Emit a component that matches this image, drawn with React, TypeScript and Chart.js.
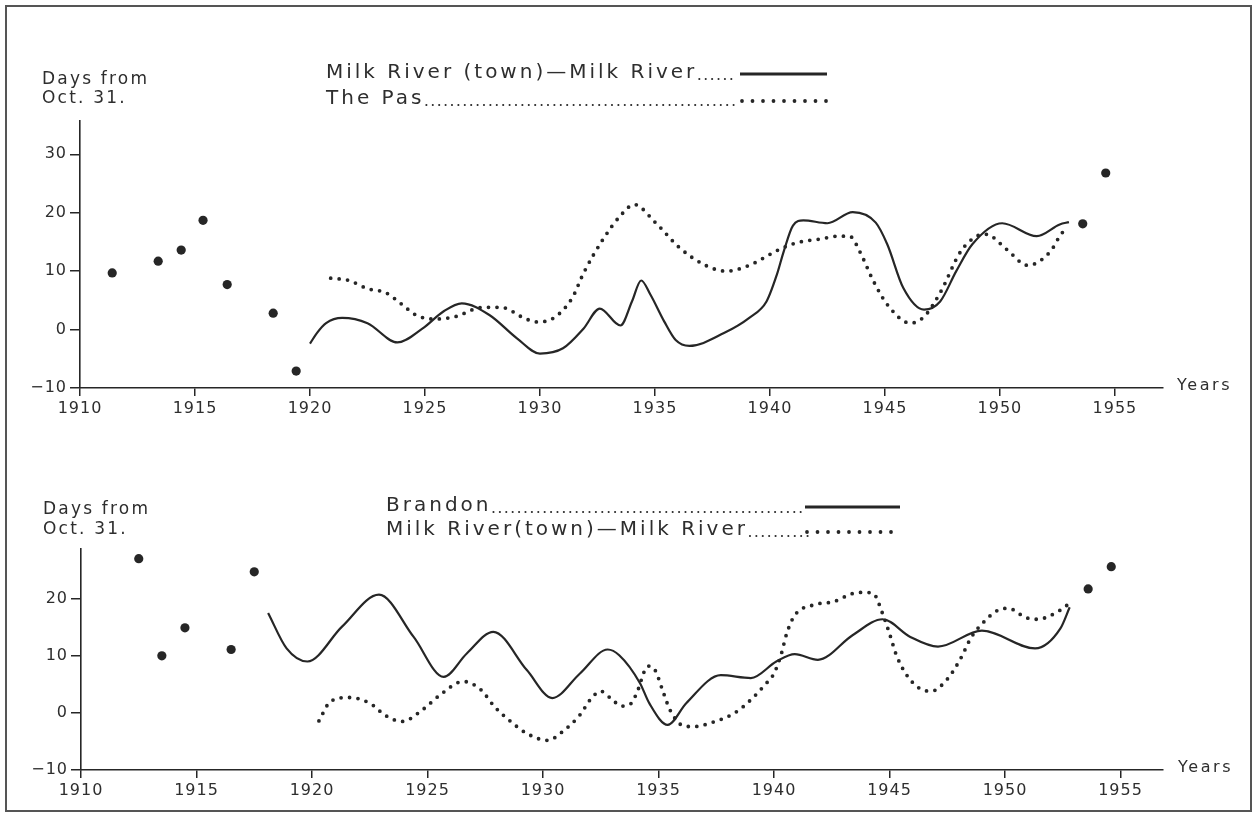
import React, { useEffect, useRef } from 'react';
import { Chart, registerables } from 'chart.js';

Chart.register(...registerables);

const INK = '#262626';
const TEXT = '#2e2e2e';
const FONT = '"DejaVu Sans", "Liberation Sans", sans-serif';

// ---------- tick labels ----------
const xTickYears = [1910, 1915, 1920, 1925, 1930, 1935, 1940, 1945, 1950, 1955];
const topYTicks = [-10, 0, 10, 20, 30];
const bottomYTicks = [-10, 0, 10, 20];

// ---------- top panel ----------
const topSolidLabel = 'Milk River (town)—Milk River';
const topDotLabel = 'The Pas';
const topSolidYears = [1920.0, 1920.3, 1920.7, 1921.4, 1922.5, 1923.8, 1924.9, 1925.8, 1926.6, 1927.8, 1929.0, 1930.0, 1931.0, 1931.9, 1932.6, 1933.5, 1934.0, 1934.4, 1934.8, 1935.4, 1935.9, 1936.5, 1938.0, 1939.1, 1939.85, 1940.3, 1940.6, 1941.0, 1941.45, 1942.5, 1943.6, 1944.6, 1945.1, 1945.8, 1946.7, 1947.4, 1948.1, 1948.8, 1950.1, 1951.6, 1952.6, 1953.0];
const topSolidValues = [-2.4, -0.6, 1.1, 2.0, 1.1, -2.2, 0.2, 3.1, 4.5, 2.5, -1.5, -4.1, -3.2, 0.2, 3.6, 0.7, 4.8, 8.4, 6.0, 1.4, -1.8, -2.8, -0.6, 2.0, 4.8, 9.4, 13.4, 17.8, 18.7, 18.2, 20.1, 18.3, 14.6, 7.1, 3.4, 4.8, 10.0, 14.6, 18.2, 16.0, 18.0, 18.4];
const topDotYears = [1920.9, 1921.7, 1922.5, 1923.3, 1924.0, 1924.6, 1925.4, 1926.3, 1927.5, 1928.3, 1929.4, 1929.9, 1930.6, 1931.4, 1931.9, 1932.75, 1933.5, 1934.1, 1935.0, 1936.1, 1937.25, 1938.1, 1939.1, 1940.4, 1941.2, 1942.2, 1943.0, 1943.5, 1943.9, 1944.5, 1945.1, 1946.1, 1946.7, 1947.4, 1948.3, 1949.0, 1949.4, 1950.3, 1951.2, 1952.2, 1952.6, 1952.9];
const topDotValues = [8.8, 8.4, 7.0, 6.3, 4.3, 2.5, 1.8, 2.2, 3.8, 3.8, 1.8, 1.3, 2.0, 5.4, 9.7, 15.5, 19.5, 21.4, 18.4, 13.9, 10.9, 10.0, 11.0, 13.7, 14.9, 15.5, 16.0, 15.9, 13.4, 8.3, 4.3, 1.1, 2.2, 6.3, 13.4, 16.0, 16.3, 13.7, 11.0, 13.4, 16.0, 17.5];
const topSingleYears = [1911.4, 1913.4, 1914.4, 1915.35, 1916.4, 1918.4, 1919.4, 1953.6, 1954.6];
const topSingleValues = [9.7, 11.7, 13.6, 18.7, 7.7, 2.8, -7.1, 18.1, 26.8];

// ---------- bottom panel ----------
const bottomSolidLabel = 'Brandon';
const bottomDotLabel = 'Milk River(town)—Milk River';
const bottomSolidYears = [1918.1, 1918.9, 1919.8, 1921.3, 1922.9, 1924.4, 1925.7, 1926.7, 1927.85, 1929.3, 1930.4, 1931.6, 1932.8, 1933.3, 1934.2, 1934.6, 1935.4, 1936.2, 1937.7, 1939.0, 1940.1, 1940.9, 1941.9, 1943.4, 1944.7, 1945.9, 1947.1, 1949.0, 1951.3, 1952.4, 1952.8];
const bottomSolidValues = [17.5, 11.3, 9.0, 15.1, 20.7, 13.3, 6.3, 10.4, 14.2, 7.5, 2.6, 6.9, 11.1, 10.1, 5.2, 1.7, -2.1, 1.7, 6.6, 6.1, 9.0, 10.3, 9.3, 13.6, 16.4, 13.3, 11.6, 14.4, 11.3, 14.8, 18.5];
const bottomDotYears = [1920.3, 1920.8, 1921.6, 1922.5, 1923.2, 1923.9, 1924.8, 1925.5, 1926.55, 1927.3, 1927.9, 1928.6, 1929.3, 1930.2, 1930.9, 1931.6, 1932.1, 1932.5, 1933.0, 1933.4, 1933.8, 1934.05, 1934.55, 1934.85, 1935.2, 1935.5, 1936.1, 1936.5, 1937.45, 1938.3, 1939.0, 1939.6, 1940.0, 1940.3, 1940.55, 1940.9, 1941.7, 1942.6, 1943.4, 1943.9, 1944.3, 1944.7, 1945.0, 1945.3, 1945.7, 1946.3, 1946.8, 1947.5, 1948.05, 1948.55, 1949.1, 1949.7, 1950.15, 1950.9, 1951.4, 1952.4, 1952.7];
const bottomDotValues = [-1.4, 2.0, 2.7, 1.7, -0.5, -1.5, 0.6, 3.0, 5.5, 4.1, 1.1, -1.5, -3.6, -4.8, -3.1, -0.35, 2.6, 3.8, 2.3, 1.2, 1.6, 3.4, 8.2, 7.5, 3.7, 0.5, -2.3, -2.4, -1.5, 0.0, 2.3, 4.9, 6.9, 10.1, 13.9, 17.1, 18.9, 19.5, 20.9, 21.1, 20.9, 17.4, 13.9, 10.1, 6.9, 4.3, 3.8, 5.9, 9.3, 13.3, 16.0, 18.0, 18.3, 16.7, 16.4, 18.0, 18.9];
const bottomSingleYears = [1912.5, 1913.5, 1914.5, 1916.5, 1917.5, 1953.6, 1954.6];
const bottomSingleValues = [27.0, 10.0, 14.9, 11.1, 24.7, 21.7, 25.6];

const yAxisTitle = ['Days from', 'Oct. 31.'];
const xAxisTitle = 'Years';

function toPoints(xs: number[], ys: number[]) {
  return xs.map((x, i) => ({ x, y: ys[i] }));
}

function drawSpaced(ctx: CanvasRenderingContext2D, text: string, x: number, y: number, size: number, spacing: number) {
  ctx.font = `${size}px ${FONT}`;
  (ctx as any).letterSpacing = `${spacing}px`;
  ctx.fillText(text, x, y);
  return ctx.measureText(text).width;
}

function leaderDots(ctx: CanvasRenderingContext2D, x0: number, x1: number, y: number, step: number, r: number) {
  for (let x = x0; x <= x1; x += step) {
    ctx.beginPath();
    ctx.arc(x, y, r, 0, Math.PI * 2);
    ctx.fill();
  }
}

type Panel = {
  solidLabel: string;
  dotLabel: string;
  solid: { x: number; y: number }[];
  dotted: { x: number; y: number }[];
  singles: { x: number; y: number }[];
  yTicks: number[];
  yMin: number;
  yMax: number;
  xMin: number;
  xMax: number;
  padding: { left: number; top: number; right: number; bottom: number };
  yWidth: number;
  legendX: number;
  legendY1: number;
  legendY2: number;
  sampleX0: number;
  sampleX1: number;
  leaderEnd1: number;
  leaderEnd2: number;
  titleX: number;
  titleY1: number;
  titleY2: number;
  yearsX: number;
  yearsY: number;
};

function annotPlugin(p: Panel) {
  return {
    id: 'annot',
    beforeDraw(chart: any) {
      (chart.ctx as any).letterSpacing = '1px';
    },
    afterDraw(chart: any) {
      const ctx: CanvasRenderingContext2D = chart.ctx;
      ctx.save();
      ctx.fillStyle = TEXT;
      ctx.strokeStyle = INK;
      ctx.textBaseline = 'middle';
      ctx.textAlign = 'left';
      // axis titles
      drawSpaced(ctx, yAxisTitle[0], p.titleX, p.titleY1, 17, 2.2);
      drawSpaced(ctx, yAxisTitle[1], p.titleX, p.titleY2, 17, 2.2);
      drawSpaced(ctx, xAxisTitle, p.yearsX, p.yearsY, 16, 2.6);
      // legend
      const w1 = drawSpaced(ctx, p.solidLabel, p.legendX, p.legendY1, 20, 3);
      const w2 = drawSpaced(ctx, p.dotLabel, p.legendX, p.legendY2, 20, 3);
      ctx.fillStyle = INK;
      leaderDots(ctx, p.legendX + w1 + 2, p.leaderEnd1, p.legendY1 + 6, 6.4, 1.05);
      leaderDots(ctx, p.legendX + w2 + 2, p.leaderEnd2, p.legendY2 + 6, 6.4, 1.05);
      ctx.lineWidth = 3;
      ctx.beginPath();
      ctx.moveTo(p.sampleX0, p.legendY1 + 1);
      ctx.lineTo(p.sampleX1, p.legendY1 + 1);
      ctx.stroke();
      leaderDots(ctx, p.sampleX0 + 2, p.sampleX1, p.legendY2 + 2, 10.5, 1.9);
      ctx.restore();
    },
  };
}

function buildConfig(p: Panel): any {
  return {
    type: 'line',
    data: {
      datasets: [
        {
          label: p.solidLabel,
          data: p.solid,
          borderColor: INK,
          borderWidth: 2.2,
          pointRadius: 0,
          cubicInterpolationMode: 'monotone',
          fill: false,
        },
        {
          label: p.dotLabel,
          data: p.dotted,
          borderColor: INK,
          borderWidth: 3.8,
          borderDash: [0, 8.5],
          borderCapStyle: 'round',
          pointRadius: 0,
          cubicInterpolationMode: 'monotone',
          fill: false,
        },
        {
          label: 'Single years',
          data: p.singles,
          showLine: false,
          borderColor: INK,
          backgroundColor: INK,
          pointRadius: 4.6,
          pointBorderWidth: 0,
          pointBackgroundColor: INK,
        },
      ],
    },
    options: {
      responsive: false,
      animation: false,
      devicePixelRatio: 1,
      events: [],
      layout: { padding: p.padding },
      plugins: { legend: { display: false }, tooltip: { enabled: false }, title: { display: false } },
      scales: {
        x: {
          type: 'linear',
          min: p.xMin,
          max: p.xMax,
          afterBuildTicks: (s: any) => {
            s.ticks = xTickYears.map((v) => ({ value: v }));
          },
          afterFit: (s: any) => {
            s.height = 30;
          },
          border: { display: true, color: INK, width: 1.6 },
          grid: { display: true, drawOnChartArea: false, drawTicks: true, tickLength: 8, color: INK, lineWidth: 1.5 },
          ticks: {
            color: TEXT,
            font: { family: FONT, size: 16 },
            padding: 3,
            maxRotation: 0,
            autoSkip: false,
            callback: (v: any) => String(v),
          },
        },
        y: {
          type: 'linear',
          min: p.yMin,
          max: p.yMax,
          afterBuildTicks: (s: any) => {
            s.ticks = p.yTicks.map((v) => ({ value: v }));
          },
          afterFit: (s: any) => {
            s.width = p.yWidth;
          },
          border: { display: true, color: INK, width: 1.6 },
          grid: { display: true, drawOnChartArea: false, drawTicks: true, tickLength: 10, color: INK, lineWidth: 1.5 },
          ticks: {
            color: TEXT,
            font: { family: FONT, size: 16 },
            padding: 3,
            autoSkip: false,
            callback: (v: any) => (v < 0 ? '−' + Math.abs(v) : String(v)),
          },
        },
      },
    },
    plugins: [annotPlugin(p)],
  };
}

const topPanel: Panel = {
  solidLabel: topSolidLabel,
  dotLabel: topDotLabel,
  solid: toPoints(topSolidYears, topSolidValues),
  dotted: toPoints(topDotYears, topDotValues),
  singles: toPoints(topSingleYears, topSingleValues),
  yTicks: topYTicks,
  yMin: -10,
  yMax: 35.7,
  xMin: 1910,
  xMax: 1957.09,
  padding: { left: 0, top: 121, right: 92, bottom: 2 },
  yWidth: 80,
  legendX: 326,
  legendY1: 73,
  legendY2: 99,
  sampleX0: 740,
  sampleX1: 827,
  leaderEnd1: 736,
  leaderEnd2: 736,
  titleX: 42,
  titleY1: 80,
  titleY2: 99,
  yearsX: 1177,
  yearsY: 386,
};

const bottomPanel: Panel = {
  solidLabel: bottomSolidLabel,
  dotLabel: bottomDotLabel,
  solid: toPoints(bottomSolidYears, bottomSolidValues),
  dotted: toPoints(bottomDotYears, bottomDotValues),
  singles: toPoints(bottomSingleYears, bottomSingleValues),
  yTicks: bottomYTicks,
  yMin: -10,
  yMax: 28.7,
  xMin: 1910,
  xMax: 1956.84,
  padding: { left: 0, top: 129, right: 92, bottom: 13 },
  yWidth: 81,
  legendX: 386,
  legendY1: 86,
  legendY2: 110,
  sampleX0: 805,
  sampleX1: 900,
  leaderEnd1: 801,
  leaderEnd2: 808,
  titleX: 43,
  titleY1: 90,
  titleY2: 110,
  yearsX: 1178,
  yearsY: 348,
};

export default function App() {
  const topRef = useRef<HTMLCanvasElement>(null);
  const botRef = useRef<HTMLCanvasElement>(null);

  useEffect(() => {
    const c1 = new Chart(topRef.current as HTMLCanvasElement, buildConfig(topPanel));
    const c2 = new Chart(botRef.current as HTMLCanvasElement, buildConfig(bottomPanel));
    return () => {
      c1.destroy();
      c2.destroy();
    };
  }, []);

  return (
    <div style={{ position: 'absolute', left: 0, top: 0, width: 1255, height: 813, background: '#fff', overflow: 'hidden' }}>
      <canvas ref={topRef} width={1255} height={420} style={{ position: 'absolute', left: 0, top: 0 }} />
      <canvas ref={botRef} width={1255} height={393} style={{ position: 'absolute', left: 0, top: 420 }} />
      <div
        style={{
          position: 'absolute',
          left: 5,
          top: 5,
          width: 1247,
          height: 807,
          boxSizing: 'border-box',
          border: '2px solid #555',
          pointerEvents: 'none',
        }}
      />
    </div>
  );
}
